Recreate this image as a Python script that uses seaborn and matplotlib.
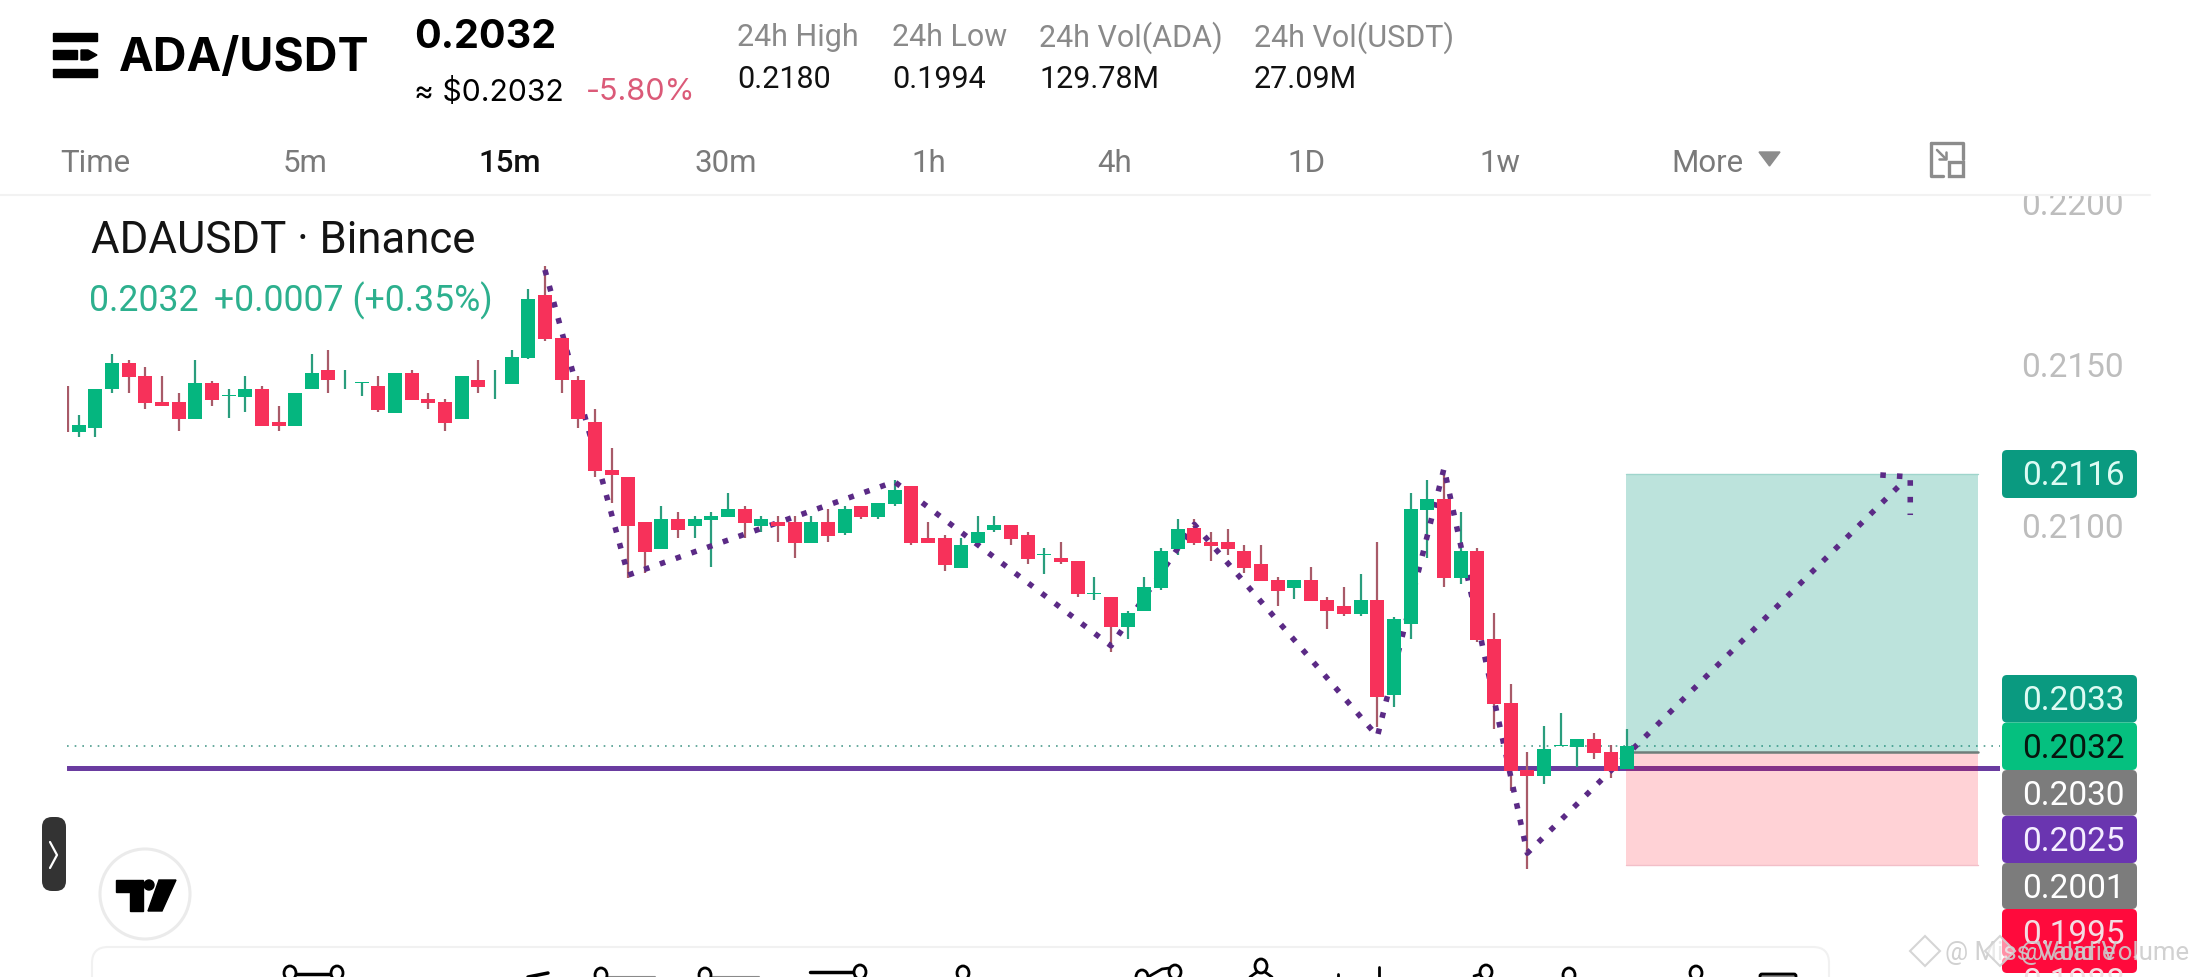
import numpy as np
import pandas as pd
import seaborn as sns
import matplotlib
matplotlib.use('Agg')
import matplotlib.pyplot as plt
from matplotlib.patches import Rectangle, FancyBboxPatch, Ellipse, Circle, Polygon, RegularPolygon

W, H = 2193, 977

# ohlc, first entry is the cut off wick at the left edge
opens = [0.21300, 0.21292, 0.21302, 0.21423, 0.21504, 0.21464, 0.21383, 0.21383, 0.21332, 0.21442,
         0.21403, 0.21400, 0.21423, 0.21321, 0.21311, 0.21423, 0.21482, 0.21442, 0.21443, 0.21433,
         0.21351, 0.21473, 0.21393, 0.21383, 0.21332, 0.21451, 0.21442, 0.21441, 0.21521, 0.21714,
         0.21581, 0.21451, 0.21321, 0.21173, 0.21152, 0.21012, 0.20930, 0.21022, 0.21001, 0.21020,
         0.21029, 0.21053, 0.21000, 0.21011, 0.21012, 0.20948, 0.21011, 0.20979, 0.21062, 0.21029,
         0.21069, 0.21124, 0.20963, 0.20963, 0.20870, 0.20948, 0.20988, 0.21002, 0.20972, 0.20909,
         0.20901, 0.20892, 0.20790, 0.20779, 0.20688, 0.20738, 0.20808, 0.20930, 0.20993, 0.20949,
         0.20949, 0.20923, 0.20882, 0.20832, 0.20809, 0.20832, 0.20770, 0.20751, 0.20729, 0.20770,
         0.20478, 0.20698, 0.21051, 0.21083, 0.20840, 0.20923, 0.20649, 0.20451, 0.20245, 0.20227,
         0.20318, 0.20317, 0.20340, 0.20299, 0.20247]
closes = [0.21299, 0.21312, 0.21423, 0.21504, 0.21462, 0.21382, 0.21370, 0.21332, 0.21442, 0.21391,
          0.21405, 0.21423, 0.21311, 0.21311, 0.21411, 0.21473, 0.21451, 0.21444, 0.21445, 0.21359,
          0.21473, 0.21391, 0.21382, 0.21320, 0.21464, 0.21431, 0.21444, 0.21522, 0.21702, 0.21580,
          0.21451, 0.21332, 0.21171, 0.21159, 0.21001, 0.20921, 0.21022, 0.20988, 0.21022, 0.21031,
          0.21053, 0.21010, 0.21022, 0.21001, 0.20948, 0.21012, 0.20969, 0.21053, 0.21027, 0.21071,
          0.21111, 0.20948, 0.20948, 0.20879, 0.20940, 0.20981, 0.21002, 0.20960, 0.20898, 0.20912,
          0.20889, 0.20790, 0.20794, 0.20688, 0.20730, 0.20810, 0.20923, 0.20990, 0.20948, 0.20939,
          0.20929, 0.20870, 0.20831, 0.20800, 0.20832, 0.20769, 0.20738, 0.20729, 0.20770, 0.20470,
          0.20711, 0.21053, 0.21083, 0.20840, 0.20923, 0.20647, 0.20450, 0.20241, 0.20227, 0.20309,
          0.20321, 0.20340, 0.20298, 0.20241, 0.20319]
highs = [0.21433, 0.21344, 0.21423, 0.21533, 0.21514, 0.21491, 0.21464, 0.21411, 0.21514, 0.21450,
         0.21423, 0.21464, 0.21433, 0.21372, 0.21411, 0.21533, 0.21545, 0.21483, 0.21445, 0.21464,
         0.21473, 0.21483, 0.21411, 0.21392, 0.21464, 0.21514, 0.21483, 0.21545, 0.21733, 0.21805,
         0.21581, 0.21464, 0.21361, 0.21240, 0.21152, 0.21012, 0.21062, 0.21043, 0.21031, 0.21043,
         0.21101, 0.21062, 0.21031, 0.21031, 0.21031, 0.21031, 0.21053, 0.21062, 0.21062, 0.21071,
         0.21142, 0.21124, 0.21012, 0.20972, 0.20963, 0.21031, 0.21031, 0.21002, 0.20981, 0.20931,
         0.20950, 0.20892, 0.20842, 0.20779, 0.20738, 0.20841, 0.20931, 0.21021, 0.21022, 0.20980,
         0.20990, 0.20940, 0.20940, 0.20841, 0.20832, 0.20872, 0.20779, 0.20811, 0.20851, 0.20951,
         0.20719, 0.21102, 0.21142, 0.21163, 0.21043, 0.20931, 0.20731, 0.20511, 0.20300, 0.20381,
         0.20421, 0.20340, 0.20358, 0.20321, 0.20372]
lows = [0.21292, 0.21274, 0.21274, 0.21413, 0.21413, 0.21363, 0.21370, 0.21295, 0.21332, 0.21373,
        0.21335, 0.21354, 0.21311, 0.21295, 0.21311, 0.21423, 0.21413, 0.21425, 0.21403, 0.21354,
        0.21351, 0.21391, 0.21363, 0.21295, 0.21332, 0.21413, 0.21394, 0.21441, 0.21516, 0.21574,
        0.21413, 0.21304, 0.21153, 0.21072, 0.20838, 0.20853, 0.20930, 0.20963, 0.20963, 0.20874,
        0.21029, 0.20963, 0.20982, 0.20950, 0.20901, 0.20948, 0.20950, 0.20973, 0.21022, 0.21022,
        0.21062, 0.20941, 0.20948, 0.20860, 0.20870, 0.20948, 0.20981, 0.20941, 0.20882, 0.20851,
        0.20882, 0.20781, 0.20772, 0.20611, 0.20651, 0.20738, 0.20802, 0.20911, 0.20942, 0.20893,
        0.20911, 0.20853, 0.20831, 0.20753, 0.20773, 0.20769, 0.20682, 0.20722, 0.20722, 0.20379,
        0.20441, 0.20650, 0.20901, 0.20811, 0.20820, 0.20641, 0.20373, 0.20181, 0.19939, 0.20202,
        0.20318, 0.20253, 0.20280, 0.20221, 0.20247]
bar_x = [0.36] + list(range(1, 95))

# zigzag drawn on the chart (bar index, price)
zig_x = [29, 34, 50, 63, 68, 79, 83, 88, 110.7]
zig_p = [0.21793, 0.20848, 0.21137, 0.20629, 0.21005, 0.20349, 0.21179, 0.19987, 0.21143]
arrow_x = [109.2, 111, 111]
arrow_p = [0.21158, 0.21152, 0.21034]

# long position tool
tool_x = [93.95, 115.07]
target_price = 0.2116
entry_price = 0.2030
stop_price = 0.1995
level_price = 0.2025
last_price = 0.2032

axis_ticks = [0.2100, 0.2150, 0.2200]
tag_labels = ['0.2116', '0.2033', '0.2032', '0.2030', '0.2025', '0.2001', '0.1995', '0.1988']
tag_colors = ['#0A9A80', '#0A9A80', '#05C07F', '#7C7C7C', '#6A35B0', '#7C7C7C', '#FF0A3C', '#FF0A3C']
tag_text = ['#DDFBF3', '#DDFBF3', '#07160F', '#FFFFFF', '#F4EEFF', '#FFFFFF', '#F3DDE2', '#F3DDE2']

stat_names = ['24h High', '24h Low', '24h Vol(ADA)', '24h Vol(USDT)']
stat_values = ['0.2180', '0.1994', '129.78M', '27.09M']
intervals = ['Time', '5m', '15m', '30m', '1h', '4h', '1D', '1w']

GREEN = '#05B67F'
RED = '#F7315A'
GREEN_WICK = '#2A9D7D'
RED_WICK = '#A85A68'
ZIG = '#5B2A86'

sns.set_theme(style='white')
plt.rcParams['font.family'] = ['Roboto', 'DejaVu Sans']

fig = plt.figure(figsize=(W / 100, H / 100), dpi=100, facecolor='white')

# chart, placed so the price and bar scales land on the right pixels
ax = fig.add_axes([67 / W, 1 - 973 / H, (2000 - 67) / W, (973 - 195) / H], zorder=1)
ax.set_xlim(0.297, 116.39)
ax.set_ylim(0.21 + (526 - 973) / 32300, 0.21 + (526 - 195) / 32300)
sns.despine(ax=ax, left=True, bottom=True, right=True, top=True)
ax.set_xticks([])
ax.yaxis.tick_right()
ax.set_yticks(axis_ticks)
ax.set_yticklabels([f'{t:.4f}' for t in axis_ticks], color='#BDBDBD', fontsize=24)
ax.tick_params(axis='y', length=0, pad=15.5)
ax.grid(False)

df = pd.DataFrame({'x': bar_x, 'open': opens, 'close': closes, 'high': highs, 'low': lows})
df['up'] = df['close'] >= df['open']

ax.axhline(level_price, color='#6A3CA0', lw=3.6, zorder=1)
ax.axhline(last_price, color='#4E9C8E', lw=1.2, ls=(0, (1, 3.6)), zorder=1.2)
ax.fill_between(tool_x, entry_price, target_price, color='#089981', alpha=0.27, lw=0, zorder=1.5)
ax.fill_between(tool_x, stop_price, entry_price, color='#FF0A20', alpha=0.18, lw=0, zorder=1.5)
ax.plot(tool_x, [target_price] * 2, color='#9FD5CC', lw=1, zorder=1.6)
ax.plot(tool_x, [stop_price] * 2, color='#F2BFC8', lw=1, zorder=1.6)
ax.plot(tool_x, [entry_price] * 2, color='#6F7D7A', lw=1.8, zorder=1.7)

ax.vlines(df['x'], df['low'], df['high'], colors=np.where(df['up'], GREEN_WICK, RED_WICK),
          lw=1.6, zorder=2)

for xs, ps in [(zig_x, zig_p), (arrow_x, arrow_p)]:
    zz = pd.DataFrame({'x': xs, 'p': ps})
    sns.lineplot(data=zz, x='x', y='p', sort=False, estimator=None, color=ZIG, lw=4.0,
                 linestyle=(0, (1, 2.0)), ax=ax, zorder=3)
ax.set_xlabel('')
ax.set_ylabel('')

bottoms = df[['open', 'close']].min(axis=1)
tops = df[['open', 'close']].max(axis=1)
ax.bar(df['x'], tops - bottoms, bottom=bottoms, width=0.84,
       color=np.where(df['up'], GREEN, RED), lw=0, zorder=4)

# page around the chart, in pixel coordinates
ui = fig.add_axes([0, 0, 1, 1], zorder=2)
ui.set_xlim(0, W)
ui.set_ylim(H, 0)
ui.axis('off')
ui.patch.set_alpha(0)

ui.add_patch(Rectangle((0, 0), W, 194, color='white', zorder=1))
ui.plot([0, 2150], [194.5, 194.5], color='#F2F2F2', lw=1.5, zorder=2)

# logo
for y0, x1, hgt in [(33, 97, 7.5), (50, 77, 9), (69, 97, 8)]:
    ui.add_patch(Rectangle((53, y0), x1 - 53, hgt, color='black', zorder=3))
ui.add_patch(Polygon([[81, 50], [88, 50], [97, 55], [88, 60], [81, 60]], color='black', zorder=3))


def label(x, y, s, size, color='black', ha='left', family='Roboto', weight='normal', z=3):
    return ui.text(x, y, s, fontsize=size, color=color, ha=ha, va='center',
                   family=[family, 'DejaVu Sans'], fontweight=weight, zorder=z)


label(119, 59, 'ADA/USDT', 33.5, family='Inter', weight='bold')
label(414, 37, '0.2032', 28.5, family='Inter', weight='bold')
label(414, 92, '≈ $0.2032', 21.7, family='Inter')
label(586, 92, '-5.80%', 22, color='#DB5A78', family='Inter')

stat_xs = [737, 892, 1039, 1254]
for x, name, val in zip(stat_xs, stat_names, stat_values):
    label(x, 38, name, 22, color='#8A8A8A')
    label(x, 80, val, 22, color='#111111')

interval_xs = [60, 305, 510, 726, 929, 1115, 1306, 1500]
for i, (x, name) in enumerate(zip(interval_xs, intervals)):
    active = name == '15m'
    label(x, 163, name, 22.5, color='#111111' if active else '#7A7A7A',
          ha='left' if i == 0 else 'center', weight='medium' if active else 'normal')
label(1671, 163, 'More', 22.5, color='#7A7A7A')
ui.add_patch(Polygon([[1759, 152], [1780, 152], [1769.5, 166]], color='#8C8C8C', zorder=3))

# fullscreen icon
ui.plot([1931, 1963, 1963], [143, 143, 159], color='#8C8C8C', lw=2.4, zorder=3)
ui.plot([1931, 1931, 1943], [143, 176, 176], color='#8C8C8C', lw=2.4, zorder=3)
ui.add_patch(Rectangle((1949, 162), 14, 14, fill=False, ec='#8C8C8C', lw=2.4, zorder=3))
ui.plot([1937, 1946], [150, 159], color='#8C8C8C', lw=1.8, zorder=3)
ui.plot([1939, 1946, 1946], [159, 159, 152], color='#8C8C8C', lw=1.8, zorder=3)

# chart title
label(91, 241, 'ADAUSDT · Binance', 31.5, color='#141414')
label(89, 301, '0.2032', 25.7, color='#2DB08E')
label(214, 301, '+0.0007 (+0.35%)', 25.7, color='#2DB08E')

# price tags on the right
tag_y = [450, 675, 722.5, 770, 815.7, 863, 909, 957]
tag_b = [498, 722.5, 770, 815.7, 863, 909, 957, 973]
for lab, col, tcol, y0, y1 in zip(tag_labels, tag_colors, tag_text, tag_y, tag_b):
    box = FancyBboxPatch((2002 + 3, y0 + 3), 135 - 6, y1 - y0 - 6, boxstyle='round,pad=3,rounding_size=5',
                         color=col, lw=0, zorder=3)
    ui.add_patch(box)
    t = label(2125, y0 + 26, lab, 24, color=tcol, ha='right', z=4)
    t.set_clip_path(box)

# side handle and TradingView badge
ui.add_patch(FancyBboxPatch((48, 823), 12, 62, boxstyle='round,pad=6,rounding_size=10',
                            color='#333333', lw=0, zorder=3))
ui.plot([50, 57, 50], [842, 855, 868], color='white', lw=1.6, zorder=4)
ui.add_patch(Circle((145, 894), 45, fc='white', ec='#EBEBEB', lw=2.2, zorder=3))
ui.add_patch(Polygon([[116, 880], [143, 880], [143, 911], [130, 911], [130, 892], [116, 892]],
                     color='black', zorder=4))
ui.add_patch(Polygon([[159, 880], [176, 880], [162, 911], [148, 911]], color='black', zorder=4))
ui.add_patch(Circle((149, 885), 5, color='black', zorder=4))

# drawing toolbar, runs off the bottom of the screenshot
ui.add_patch(FancyBboxPatch((106, 961), 1709, 60, boxstyle='round,pad=14,rounding_size=16',
                            fc='white', ec='#F1F1F1', lw=1.5, zorder=2.5))
for cx, cy in [(290, 973), (337, 973), (601, 975), (705, 975), (860, 972), (963, 973), (1175, 972),
               (1142, 977), (1261, 966), (1486, 972), (1569, 975), (1696, 973)]:
    ui.add_patch(Ellipse((cx, cy), 12, 14, fc='white', ec='black', lw=2, zorder=3))
ui.plot([296, 331], [974, 974], color='black', lw=2.5, zorder=2.8)
ui.plot([528, 548], [977, 973], color='black', lw=2.5, zorder=2.8)
ui.plot([607, 655], [976.5, 976.5], color='#8A8A8A', lw=1.5, zorder=2.8)
ui.plot([711, 759], [976.5, 976.5], color='#8A8A8A', lw=1.5, zorder=2.8)
ui.plot([810, 854], [972, 972], color='black', lw=2.5, zorder=2.8)
ui.plot([1148, 1162, 1170], [977, 969, 968], color='black', lw=2, zorder=2.8)
ui.plot([1257, 1250], [972, 977], color='black', lw=2, zorder=2.8)
ui.plot([1265, 1272], [972, 977], color='black', lw=2, zorder=2.8)
ui.plot([1338, 1338], [974, 977], color='black', lw=2, zorder=2.8)
ui.plot([1379, 1379], [967, 977], color='black', lw=2, zorder=2.8)
ui.plot([1474, 1481], [976, 974], color='black', lw=2, zorder=2.8)
ui.add_patch(FancyBboxPatch((1761, 975), 34, 10, boxstyle='round,pad=1,rounding_size=2',
                            fc='#8A8A8A', ec='black', lw=2, zorder=3))

# watermarks
for x, s in [(1945, '@ Miss Valarie'), (2020, '@Void Volume')]:
    label(x, 953, s, 18.5, color=(0.8, 0.8, 0.8, 0.9), z=5)
for cx in [1925, 2000]:
    ui.add_patch(RegularPolygon((cx, 951), 4, radius=15, fc=(1, 1, 1, 0.55),
                                ec=(0.82, 0.82, 0.82, 0.9), lw=1.5, zorder=5))

fig.savefig('out.png', dpi=100, facecolor='white')
